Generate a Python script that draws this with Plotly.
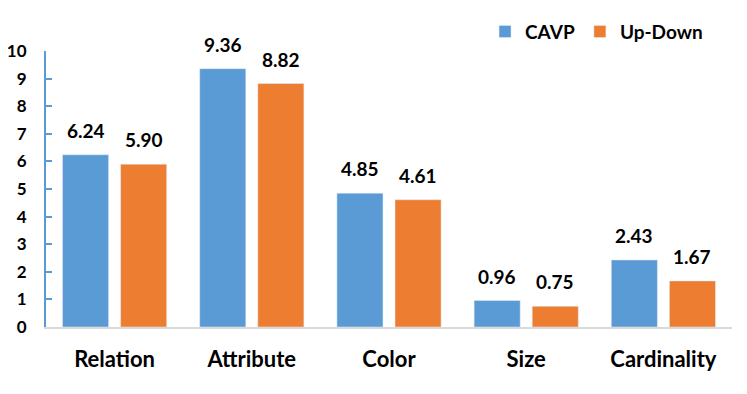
import plotly.graph_objects as go

categories = ["Relation", "Attribute", "Color", "Size", "Cardinality"]
cavp = [6.24, 9.36, 4.85, 0.96, 2.43]
up_down = [5.90, 8.82, 4.61, 0.75, 1.67]
y_ticks = list(range(0, 11))

BLUE = "#5B9BD5"
ORANGE = "#ED7D31"
FONT = "Lato"

fig = go.Figure()
fig.add_trace(go.Bar(x=categories, y=cavp, name="CAVP", marker_color=BLUE,
                     offsetgroup="a"))
fig.add_trace(go.Bar(x=categories, y=up_down, name="Up-Down", marker_color=ORANGE,
                     offsetgroup="b"))

# value labels above each bar
for i, cat in enumerate(categories):
    for val, side in ((cavp[i], -1), (up_down[i], 1)):
        fig.add_annotation(
            x=cat, y=val, text=f"{val:.2f}", showarrow=False,
            xref="x", yref="y", yanchor="bottom", yshift=11,
            xshift=side * 29,
            font=dict(family=FONT, size=19, color="#000000", weight="bold"),
        )

# page body has an 8px default margin, so the figure is drawn 8px smaller
fig.update_layout(
    width=739, height=386,
    margin=dict(l=38, r=15, t=43, b=67, autoexpand=False),
    paper_bgcolor="white", plot_bgcolor="white",
    barmode="group", bargap=0.153, bargroupgap=0.207,
    font=dict(family=FONT, color="#000000"),
    showlegend=True,
    legend=dict(
        orientation="h", x=0.64, y=1.07, xanchor="left", yanchor="middle",
        font=dict(family=FONT, size=19, color="#000000", weight="bold"),
        itemwidth=30, traceorder="normal",
    ),
)
fig.update_xaxes(
    automargin=False,
    showline=True, linecolor="#D9D9D9", linewidth=2,
    showgrid=False, ticks="", ticklabelstandoff=12,
    tickfont=dict(family=FONT, size=22, color="#000000", weight="bold"),
)
fig.update_yaxes(
    automargin=False,
    range=[0, 10], tickvals=y_ticks, showgrid=False, zeroline=False,
    showline=True, linecolor=BLUE, linewidth=2,
    ticks="inside", ticklen=6, tickcolor=BLUE, tickwidth=2,
    tickfont=dict(family=FONT, size=17, color="#000000", weight="bold"),
    ticklabelstandoff=14,
)

fig.write_html("out.html")
